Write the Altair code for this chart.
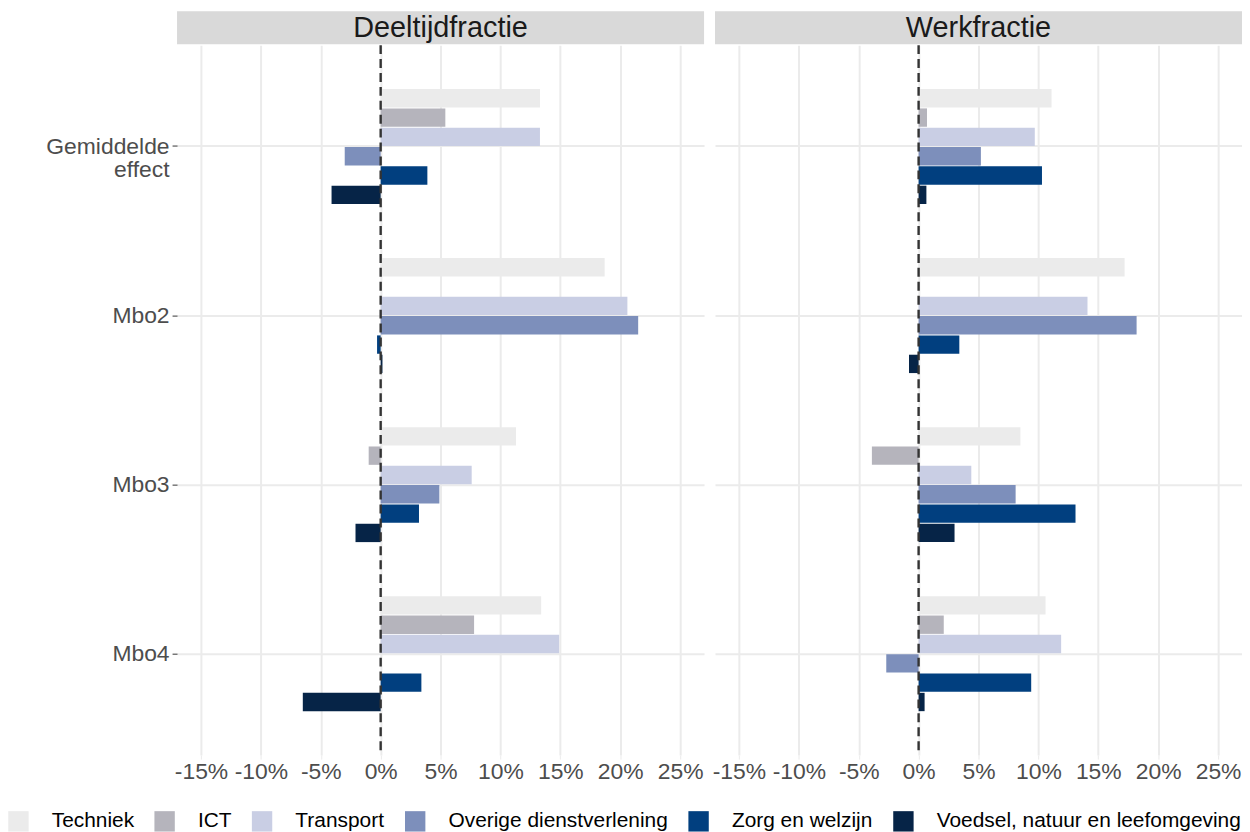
import altair as alt
import pandas as pd

groups = ["Gemiddelde effect", "Mbo2", "Mbo3", "Mbo4"]
sectors = ["Techniek", "ICT", "Transport", "Overige dienstverlening",
           "Zorg en welzijn", "Voedsel, natuur en leefomgeving"]
colors = ["#EBEBEB", "#B5B4BC", "#C9CEE4", "#7D8FBB", "#013F7F", "#062447"]
panels = ["Deeltijdfractie", "Werkfractie"]

# effect in %, None = no bar
deeltijd_gem = [13.3, 5.4, 13.3, -3.0, 3.9, -4.1]
deeltijd_mbo2 = [18.7, None, 20.6, 21.5, -0.3, 0.15]
deeltijd_mbo3 = [11.3, -1.0, 7.6, 4.9, 3.2, -2.1]
deeltijd_mbo4 = [13.4, 7.8, 14.9, None, 3.4, -6.5]
werk_gem = [11.1, 0.7, 9.7, 5.2, 10.3, 0.65]
werk_mbo2 = [17.2, None, 14.1, 18.2, 3.4, -0.8]
werk_mbo3 = [8.5, -3.9, 4.4, 8.1, 13.1, 3.0]
werk_mbo4 = [10.6, 2.1, 11.9, -2.7, 9.4, 0.5]

x_ticks = [-15, -12.5, -10, -7.5, -5, -2.5, 0, 2.5, 5, 7.5, 10, 12.5,
           15, 17.5, 20, 22.5, 25]
x_domain = [-17, 27]

series = {
    "Deeltijdfractie": [deeltijd_gem, deeltijd_mbo2, deeltijd_mbo3, deeltijd_mbo4],
    "Werkfractie": [werk_gem, werk_mbo2, werk_mbo3, werk_mbo4],
}

rows = []
for p in panels:
    for g, vals in zip(groups, series[p]):
        for s, v in zip(sectors, vals):
            if v is not None:
                rows.append({"panel": p, "group": g, "sector": s, "value": v})
df = pd.DataFrame(rows)

W = 530
H = 714
FONT = "Liberation Sans"


def make_panel(name, first):
    d = df[df["panel"] == name]
    xaxis = alt.Axis(
        values=x_ticks,
        labelExpr="datum.value % 5 == 0 ? datum.value + '%' : ''",
        grid=True,
        gridColor={"condition": {"test": "datum.value % 5 == 0", "value": "#EBEBEB"},
                   "value": "#F4F4F4"},
        gridWidth={"condition": {"test": "datum.value % 5 == 0", "value": 2},
                   "value": 1},
        tickColor={"condition": {"test": "datum.value % 5 == 0", "value": "#EBEBEB"},
                   "value": "transparent"},
        tickSize=4,
        domain=False,
        labelFontSize=23,
        labelColor="#4D4D4D",
        labelPadding=2,
        labelFlush=False,
        title=None,
    )
    if first:
        yaxis = alt.Axis(
            labelFontSize=23, labelColor="#4D4D4D", tickColor="#333333",
            tickSize=5, tickWidth=1, labelPadding=3, domain=False, grid=True,
            gridColor="#EBEBEB", gridWidth=2, minExtent=170, maxExtent=170,
            labelExpr="datum.label == 'Gemiddelde effect' ? ['Gemiddelde', 'effect'] : datum.label",
            labelLineHeight=24, title=None,
        )
    else:
        yaxis = alt.Axis(labels=False, ticks=False, domain=False, grid=True,
                         gridColor="#EBEBEB", gridWidth=2, minExtent=0,
                         maxExtent=0, title=None)

    bars = alt.Chart(d).mark_bar().encode(
        x=alt.X("value:Q", scale=alt.Scale(domain=x_domain, nice=False, zero=False),
                axis=xaxis),
        y=alt.Y("group:N", sort=groups,
                scale=alt.Scale(domain=groups, paddingInner=0.32, paddingOuter=0.26),
                axis=yaxis),
        yOffset=alt.YOffset("sector:N", sort=sectors,
                            scale=alt.Scale(domain=sectors, paddingInner=0.05,
                                            paddingOuter=0)),
        color=alt.Color(
            "sector:N", sort=sectors,
            scale=alt.Scale(domain=sectors, range=colors),
            legend=alt.Legend(
                title=None, orient="none", legendX=-170, legendY=770,
                direction="horizontal", symbolType="square", symbolSize=420,
                symbolStrokeWidth=0, symbolOpacity=1, labelFontSize=21,
                labelColor="#000000", labelOffset=23, columnPadding=20,
                labelFont=FONT, labelLimit=400,
            ),
        ),
    )

    zero = alt.Chart(pd.DataFrame({"zero": [0]})).mark_rule(
        color="#333333", strokeDash=[9, 5], strokeWidth=2.4
    ).encode(x=alt.X("zero:Q", title=None))

    strip_df = pd.DataFrame({"panel": [name]})
    strip = alt.Chart(strip_df).mark_rect(color="#D9D9D9").encode(
        x=alt.value(0), x2=alt.value(W), y=alt.value(-34), y2=alt.value(-1)
    )
    strip_text = alt.Chart(strip_df).mark_text(
        fontSize=29, color="#1A1A1A", font=FONT, baseline="middle", align="center"
    ).encode(text="panel:N", x=alt.value(W / 2), y=alt.value(-17))

    return alt.layer(bars, zero, strip, strip_text).properties(width=W, height=H)


chart = alt.hconcat(
    make_panel("Deeltijdfractie", True),
    make_panel("Werkfractie", False),
    spacing=8,
).resolve_scale(
    x="independent", y="shared", color="shared"
).properties(
    padding={"left": 0, "top": 1, "right": 0, "bottom": 0}
).configure(
    font=FONT,
).configure_view(
    stroke=None
)

chart.save("out.html", embed_options={"renderer": "svg", "actions": False})
